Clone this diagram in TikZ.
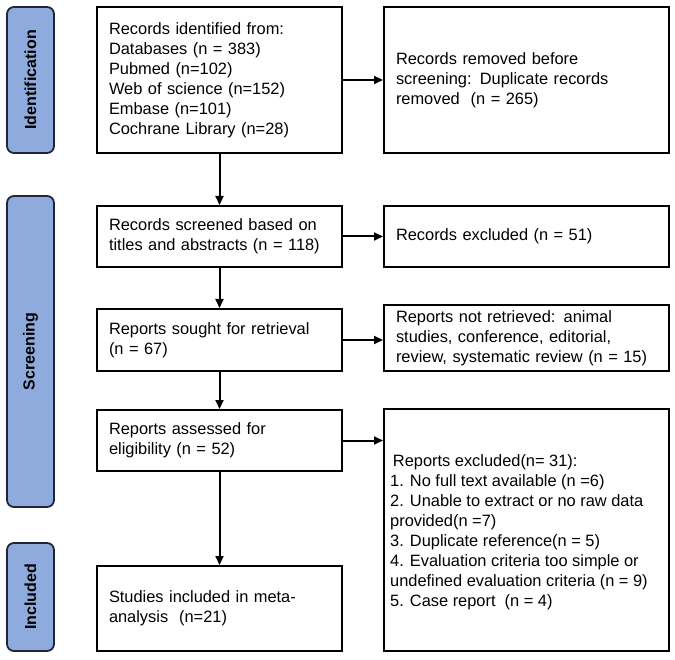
\documentclass[tikz,border=0pt]{standalone}
\usepackage{fontspec}
\setmainfont{Liberation Sans}
\usetikzlibrary{positioning, calc, arrows.meta}

\definecolor{stagefill}{RGB}{143,170,220}
\definecolor{stageline}{RGB}{30,38,60}

\begin{document}
\begin{tikzpicture}[x=1pt, y=-1pt,
  box/.style={draw, line width=2pt, align=left, inner xsep=12pt, font=\fontsize{16.4}{20}\selectfont},
  leftbox/.style={box, text width=221pt, minimum height=#1},
  rightbox/.style={box, text width=261pt, minimum height=#1},
  stage/.style={draw=stageline, fill=stagefill, line width=1.8pt, rounded corners=7pt, rotate=90, minimum height=47pt, minimum width=#1, font=\fontsize{16}{18}\selectfont\bfseries},
  flow/.style={-{Triangle[length=9pt, width=8pt]}, line width=2pt}]

\useasboundingbox (0,0) rectangle (675,660);

% stages
\node[stage=146pt] (ident) at (30.5,80) {Identification};
\node[stage=311pt] (screen) at (30.5,351.5) {Screening};
\node[stage=108pt] (incl) at (30.5,597) {Included};

% main column
\node[leftbox=146pt] (records) at (219.5,80) {Records identified from:\\Databases (n = 383)\\Pubmed (n=102)\\Web of science (n=152)\\Embase (n=101)\\Cochrane Library (n=28)};
\node[leftbox=61pt] (screened) at (219.5,236.5) {Records screened based on\\titles and abstracts (n = 118)};
\node[leftbox=62pt] (sought) at (219.5,340) {Reports sought for retrieval\\(n = 67)};
\node[leftbox=61pt] (assessed) at (219.5,440.5) {Reports assessed for\\eligibility (n = 52)};
\node[leftbox=85pt] (included) at (219.5,608.5) {Studies included in meta-\\analysis~~(n=21)};

% side column
\node[rightbox=146pt] (removed) at (526.5,80) {Records removed before\\screening: Duplicate records\\removed~~(n = 265)};
\node[rightbox=61pt] (excluded) at (526.5,236.5) {Records excluded (n = 51)};
\node[rightbox=66pt] (notretr) at (526.5,338) {Reports not retrieved: animal\\studies, conference, editorial,\\review, systematic review (n = 15)};
\node[rightbox=242pt] (repexcl) at (526.5,530) {};
\node[anchor=north west, align=left, inner sep=0pt, font=\fontsize{16.4}{20}\selectfont] (exclist) at ($(repexcl.north west)+(7,46)$) {\,Reports excluded(n= 31):\\1. No full text available (n =6)\\2. Unable to extract or no raw data\\provided(n =7)\\3. Duplicate reference(n = 5)\\4. Evaluation criteria too simple or\\undefined evaluation criteria (n = 9)\\5. Case report~~(n = 4)};

% arrows
\draw[flow] (records) -- (screened);
\draw[flow] (screened) -- (sought);
\draw[flow] (sought) -- (assessed);
\draw[flow] (assessed) -- (included);
\draw[flow] (records) -- (removed);
\draw[flow] (screened) -- (excluded);
\draw[flow] (sought.east) -- (sought.east -| notretr.west);
\draw[flow] (assessed.east) -- (assessed.east -| repexcl.west);

\end{tikzpicture}
\end{document}
